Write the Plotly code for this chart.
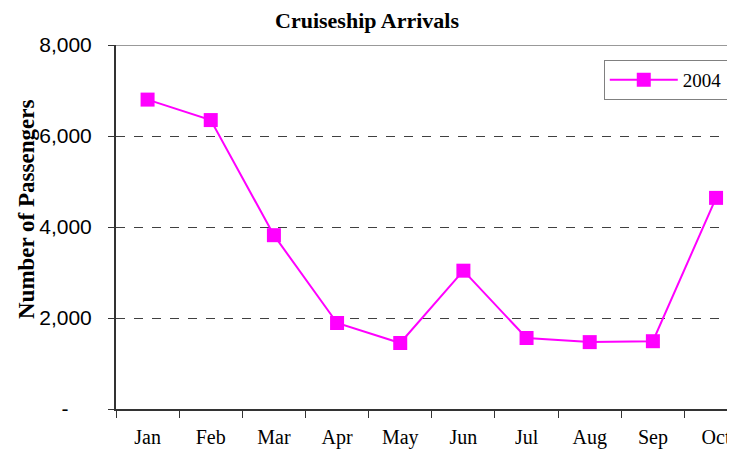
import plotly.graph_objects as go

months = ["Jan", "Feb", "Mar", "Apr", "May", "Jun", "Jul", "Aug", "Sep", "Oct"]
passengers_2004 = [6800, 6350, 3820, 1890, 1450, 3040, 1560, 1470, 1490, 4640]
y_tick_vals = [0, 2000, 4000, 6000, 8000]
y_tick_text = ["-\u2007\u2007", "2,000", "4,000", "6,000", "8,000"]

serif = "Liberation Serif, Times New Roman, serif"
sans = "Liberation Sans, Arial, sans-serif"

fig = go.Figure()
fig.add_trace(go.Scatter(
    x=months, y=passengers_2004, name="2004", mode="lines+markers",
    line=dict(color="#ff00ff", width=2),
    marker=dict(symbol="square", size=14, color="#ff00ff"),
))

# page body has an 8px margin, so the figure is sized/offset to compensate
fig.update_layout(
    width=727, height=441,
    margin=dict(l=108, r=0, t=37, b=40),
    paper_bgcolor="white", plot_bgcolor="white",
    title=dict(text="<b>Cruiseship Arrivals</b>", x=(367 - 8) / 727, xref="container", xanchor="center",
               y=1 - 12 / 441, yref="container", yanchor="middle",
               font=dict(family=serif, size=22, color="black")),
    showlegend=True,
    legend=dict(x=0.788, y=0.959, xanchor="left", yanchor="top",
                bordercolor="#808080", borderwidth=1, bgcolor="white",
                itemwidth=68, entrywidth=150, entrywidthmode="pixels",
                font=dict(family=serif, size=19, color="black")),
    xaxis=dict(type="category", range=[-0.5, 9.3], tickson="boundaries", automargin=False,
               ticks="outside", ticklen=7, tickcolor="#333", tickwidth=1,
               showline=True, linecolor="#333", linewidth=2, showgrid=False,
               tickfont=dict(family=serif, size=20, color="black"),
               ticklabelstandoff=9),
    yaxis=dict(range=[0, 8000], tickmode="array", tickvals=y_tick_vals, ticktext=y_tick_text,
               automargin=False,
               ticks="outside", ticklen=6, tickcolor="#333", tickwidth=1,
               showline=True, linecolor="#333", linewidth=2,
               showgrid=True, gridcolor="#404040", gridwidth=1, griddash="dash",
               zeroline=False,
               tickfont=dict(family=sans, size=21, color="black"),
               ticklabelstandoff=12),
)

fig.add_annotation(text="<b>Number of Passengers</b>", textangle=-90,
                   xref="paper", yref="paper", x=(26 - 116) / 619, y=(409 - 210) / 364,
                   xanchor="center", yanchor="middle", showarrow=False,
                   font=dict(family=serif, size=23, color="black"))

fig.add_shape(type="line", xref="paper", yref="y", x0=0, x1=1, y0=8000, y1=8000,
              line=dict(color="#999999", width=2))

fig.write_html("out.html")
